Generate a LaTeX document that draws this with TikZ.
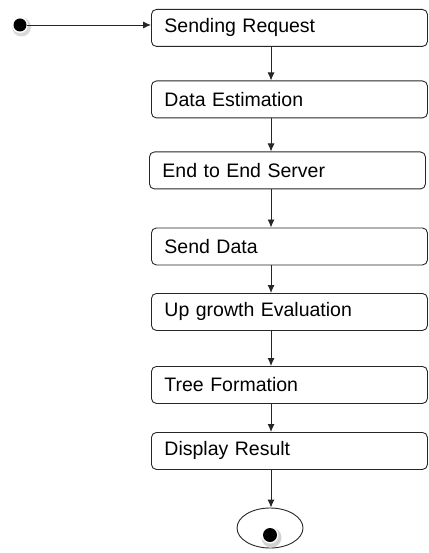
\documentclass[tikz,border=0pt]{standalone}
\usepackage{fontspec}
\setmainfont{Liberation Sans}
\usetikzlibrary{arrows.meta,shapes.geometric}
\begin{document}
\begin{tikzpicture}[x=1pt,y=-1pt,
  box/.style={draw=black!85,line width=0.9pt,rounded corners=5pt,anchor=north west,
    minimum width=276pt,minimum height=37pt,text width=250pt,inner xsep=13pt,align=left,
    font=\fontsize{19.5}{22}\selectfont},
  arr/.style={draw=black!85,line width=0.9pt,-{Latex[length=8pt,width=7pt]}}]
\useasboundingbox (0,0) rectangle (428,553);
\node[box] (b1) at (151,9) {Sending Request};
\node[box] (b2) at (151,80.5) {Data Estimation};
\node[box] (b3) at (149,151.5) {End to End Server};
\node[box] (b4) at (151,227.5) {Send Data};
\node[box] (b5) at (151,293) {Up growth Evaluation};
\node[box] (b6) at (151,366) {Tree Formation};
\node[box] (b7) at (151,432) {Display Result};
\coordinate (ax) at (271,0);
% start
\fill[gray!30] (21.5,27) circle (9.5pt);
\fill[white] (20,25) circle (8pt);
\node[circle,fill=black,inner sep=0pt,minimum size=13pt] (start) at (20,25) {};
\draw[arr] (start.east) -- (b1.west |- start.east);
% end
\node[ellipse,draw=black!85,line width=0.9pt,minimum width=66pt,minimum height=40pt,inner sep=0pt] (end) at (270,528) {};
\fill[gray!35] (271.5,537.5) circle (10pt);
\fill[white] (270,535) circle (8.5pt);
\node[circle,fill=black,inner sep=0pt,minimum size=14pt] (enddot) at (270,535) {};
% flow
\draw[arr] (b1.south -| ax) -- (b2.north -| ax);
\draw[arr] (b2.south -| ax) -- (b3.north -| ax);
\draw[arr] (b3.south -| ax) -- (b4.north -| ax);
\draw[arr] (b4.south -| ax) -- (b5.north -| ax);
\draw[arr] (b5.south -| ax) -- (b6.north -| ax);
\draw[arr] (b6.south -| ax) -- (b7.north -| ax);
\draw[arr] (b7.south -| ax) -- (end.north -| ax);
\end{tikzpicture}
\end{document}
